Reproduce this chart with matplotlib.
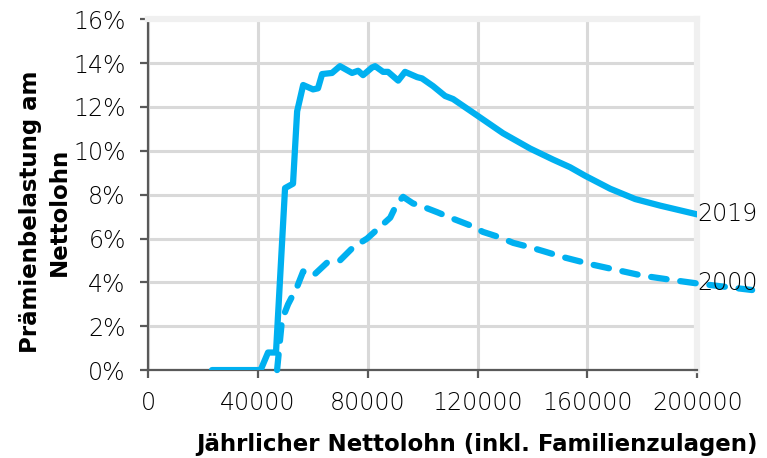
import matplotlib.pyplot as plt
from matplotlib.ticker import FuncFormatter

# Prämienbelastung (in % des Nettolohns) nach Nettolohn, 2019 und 2000
lohn_2019 = [23300, 40000, 41000, 43700, 46600, 49900, 52800, 54300, 56500, 60100,
             61900, 63400, 67000, 69900, 74300, 76500, 78300, 81600, 82700, 85600,
             87400, 91100, 93600, 98000, 99800, 103800, 108200, 111100, 120000, 129300,
             139200, 147500, 153700, 159200, 168300, 177400, 186500, 200000]
last_2019 = [0.0, 0.0, 0.0, 0.8, 0.8, 8.3, 8.5, 11.8, 13.0, 12.8,
             12.85, 13.5, 13.55, 13.86, 13.55, 13.65, 13.45, 13.8, 13.86, 13.6,
             13.6, 13.2, 13.6, 13.36, 13.3, 12.95, 12.5, 12.36, 11.6, 10.8,
             10.1, 9.6, 9.25, 8.86, 8.27, 7.8, 7.5, 7.1]

lohn_2000 = [47000, 48800, 51000, 54300, 56500, 60100, 65200, 69900, 74700, 79800,
             88200, 90700, 92900, 96500, 99100, 105300, 111100, 117300, 122000, 128200,
             133000, 139200, 144600, 151200, 162100, 171200, 180300, 191300, 200000, 220000]
last_2000 = [0.0, 2.3, 3.0, 3.8, 4.5, 4.3, 4.9, 5.0, 5.6, 6.0,
             6.95, 7.6, 7.9, 7.6, 7.5, 7.2, 6.9, 6.6, 6.3, 6.05,
             5.8, 5.6, 5.4, 5.15, 4.8, 4.55, 4.3, 4.1, 3.95, 3.65]

x_ticks = [0, 40000, 80000, 120000, 160000, 200000]
y_ticks = [0, 2, 4, 6, 8, 10, 12, 14, 16]

blau = '#00b0f0'
dunkelgrau = '#595959'
plt.rcParams['font.family'] = ['DejaVu Sans']

fig = plt.figure(figsize=(7.67, 4.58), dpi=100)
ax = fig.add_axes([0.193, 0.192, 0.716, 0.766])

ax.plot(lohn_2019, last_2019, color=blau, lw=4.5, solid_capstyle='round',
        solid_joinstyle='round', zorder=3)
ax.plot(lohn_2000, last_2000, color=blau, lw=4.5, linestyle=(0, (2.5, 2.2)),
        dash_capstyle='round', clip_on=False, zorder=3)

ax.text(lohn_2019[-1], last_2019[-1], '2019', fontsize=17, fontweight='light',
        color='black', ha='left', va='center', zorder=4)
ax.text(200000, 3.95, '2000', fontsize=17, fontweight='light',
        color='black', ha='left', va='center', zorder=4)

ax.set_xlim(0, 200000)
ax.set_ylim(0, 16)
ax.set_xticks(x_ticks)
ax.set_yticks(y_ticks)
ax.yaxis.set_major_formatter(FuncFormatter(lambda v, p: f'{v:.0f}%'))
for lbl in ax.get_xticklabels() + ax.get_yticklabels():
    lbl.set_fontweight('light')

ax.grid(True, color='#d9d9d9', lw=2.2, zorder=0)
ax.set_axisbelow(True)

for side in ['top', 'right']:
    ax.spines[side].set_color('#f0f0f0')
    ax.spines[side].set_linewidth(4.5)
for side in ['left', 'bottom']:
    ax.spines[side].set_color(dunkelgrau)
    ax.spines[side].set_linewidth(1.6)

ax.tick_params(axis='x', length=6, width=1.6, color=dunkelgrau, labelsize=17,
               labelcolor='black', pad=9)
ax.tick_params(axis='y', length=6, width=1.6, color=dunkelgrau, labelsize=17,
               labelcolor='black', pad=10)

fig.text(758 / 767, 1 - 451 / 458, 'Jährlicher Nettolohn (inkl. Familienzulagen)',
         fontsize=16.5, fontweight='bold', ha='right', va='baseline')
fig.text(45 / 767, 1 - 212 / 458, 'Prämienbelastung am\nNettolohn', fontsize=16.5,
         fontweight='bold', rotation=90, ha='center', va='center',
         multialignment='center', linespacing=1.3)

fig.savefig('out.png', dpi=100)
